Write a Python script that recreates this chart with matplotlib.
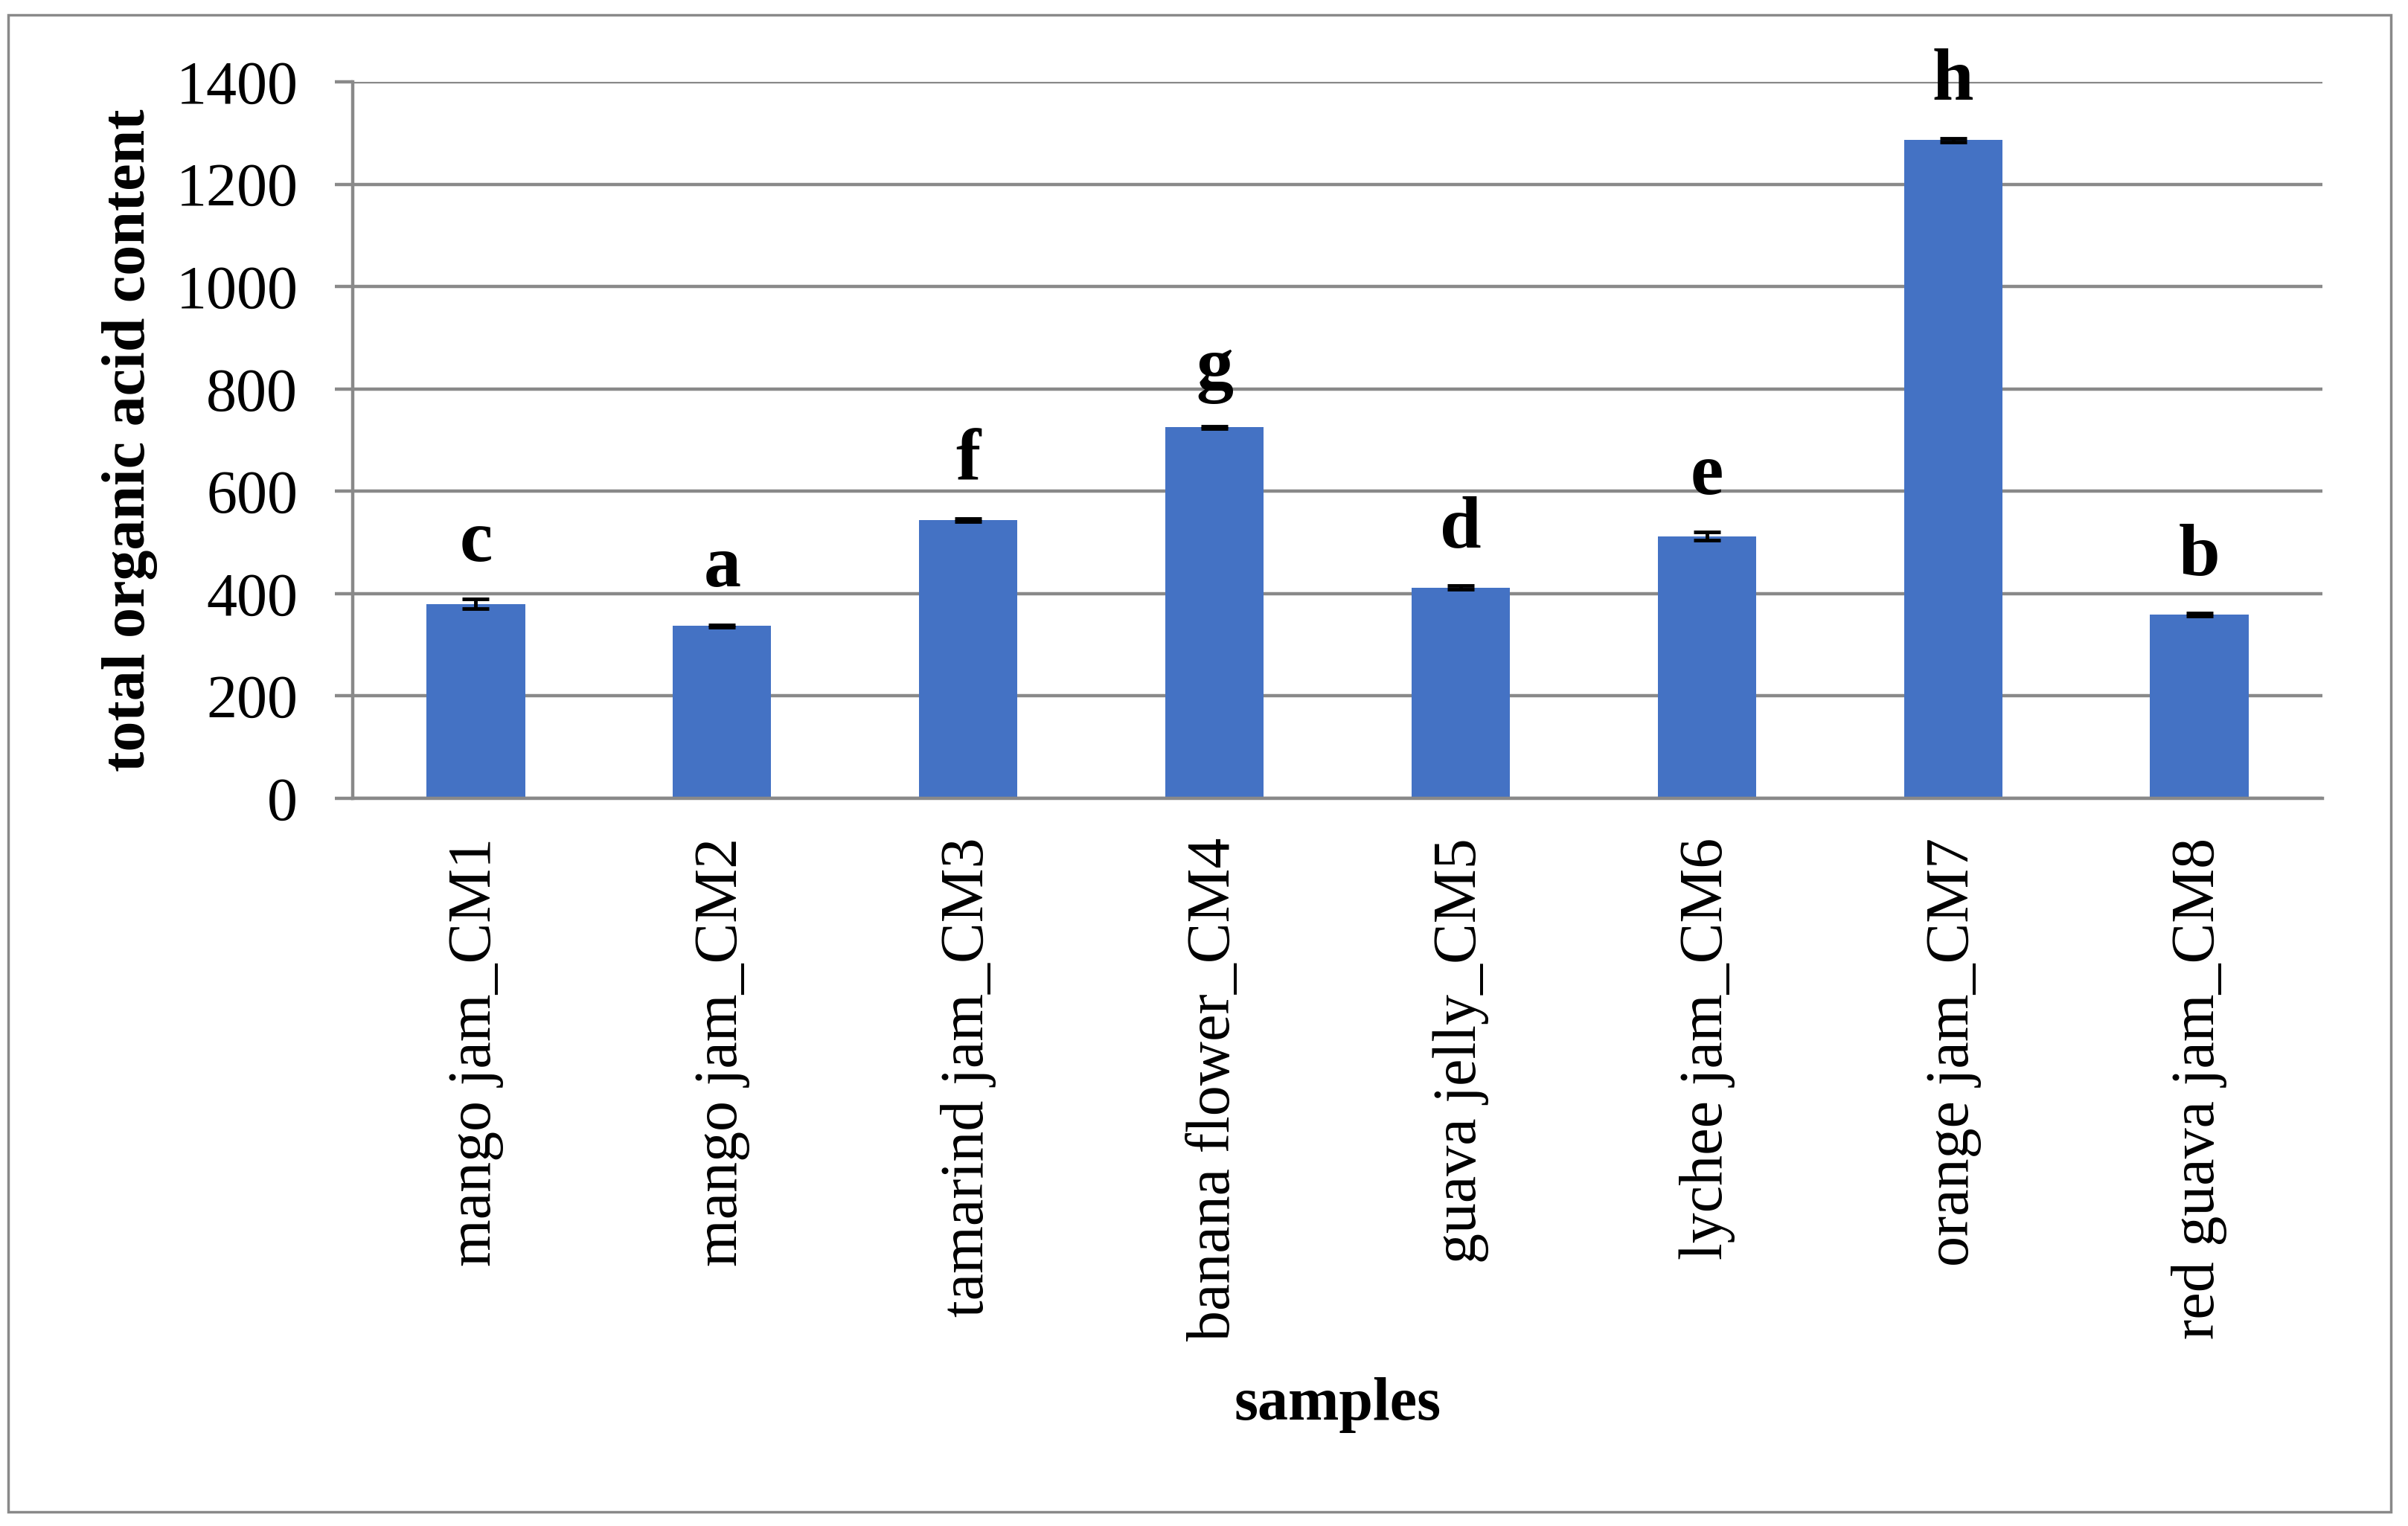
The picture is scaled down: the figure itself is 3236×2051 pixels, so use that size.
import matplotlib
matplotlib.use('Agg')
import matplotlib.pyplot as plt
from matplotlib.patches import Rectangle

# Values.
samples = ['mango jam_CM1', 'mango jam_CM2', 'tamarind jam_CM3', 'banana flower_CM4',
           'guava jelly_CM5', 'lychee jam_CM6', 'orange jam_CM7', 'red guava jam_CM8']
acid_content = [380, 337, 544, 725, 412, 512, 1286, 359]
acid_error = [9, 2, 3, 2, 4, 8, 4, 3]
groups = ['c', 'a', 'f', 'g', 'd', 'e', 'h', 'b']
y_ticks = [0, 200, 400, 600, 800, 1000, 1200, 1400]

bar_color = '#4472C4'
line_gray = '#898989'

plt.rcParams['font.family'] = ['Liberation Serif', 'DejaVu Serif']

fig = plt.figure(figsize=(32.37, 20.51), dpi=100)
ax = fig.add_axes([0.1464, 0.4768, 0.8178, 0.4696])

x = range(len(samples))
ax.bar(x, acid_content, width=0.4, color=bar_color, zorder=2)
ax.errorbar(x, acid_content, yerr=acid_error, fmt='none', ecolor='black',
            elinewidth=3.5, capsize=13, capthick=3.5, zorder=3)

for i, (v, e, g) in enumerate(zip(acid_content, acid_error, groups)):
    ax.annotate(g, (i, v + e), xytext=(0, 37), textcoords='offset points',
                ha='center', va='baseline', fontsize=72, fontweight='bold')

ax.set_xlim(-0.5, len(samples) - 0.5)
ax.set_ylim(0, 1400)
ax.set_yticks(y_ticks)
ax.set_xticks(list(x))
ax.set_xticklabels(samples, rotation=90, fontsize=59)
ax.tick_params(axis='x', length=0, pad=38)
ax.tick_params(axis='y', length=17, width=3.2, color=line_gray, pad=36, labelsize=59)

ax.set_axisbelow(True)
ax.yaxis.grid(True, color=line_gray, linewidth=3.2)
for side in ['top', 'right']:
    ax.spines[side].set_visible(False)
for side in ['left', 'bottom']:
    ax.spines[side].set_color(line_gray)
    ax.spines[side].set_linewidth(3.2)

ax.set_ylabel('total organic acid content', fontsize=59, fontweight='bold', va='center')
ax.yaxis.set_label_coords(-0.113, 0.5)
ax.set_xlabel('samples', fontsize=59, fontweight='bold', va='baseline')
ax.xaxis.set_label_coords(0.5, -0.867)

# Outer chart border.
fig.patches.append(Rectangle((0.0034, 0.0093), 0.9892, 0.9809, transform=fig.transFigure,
                             fill=False, edgecolor=line_gray, linewidth=2.5))

fig.savefig('out.png', dpi=100, facecolor='white')
